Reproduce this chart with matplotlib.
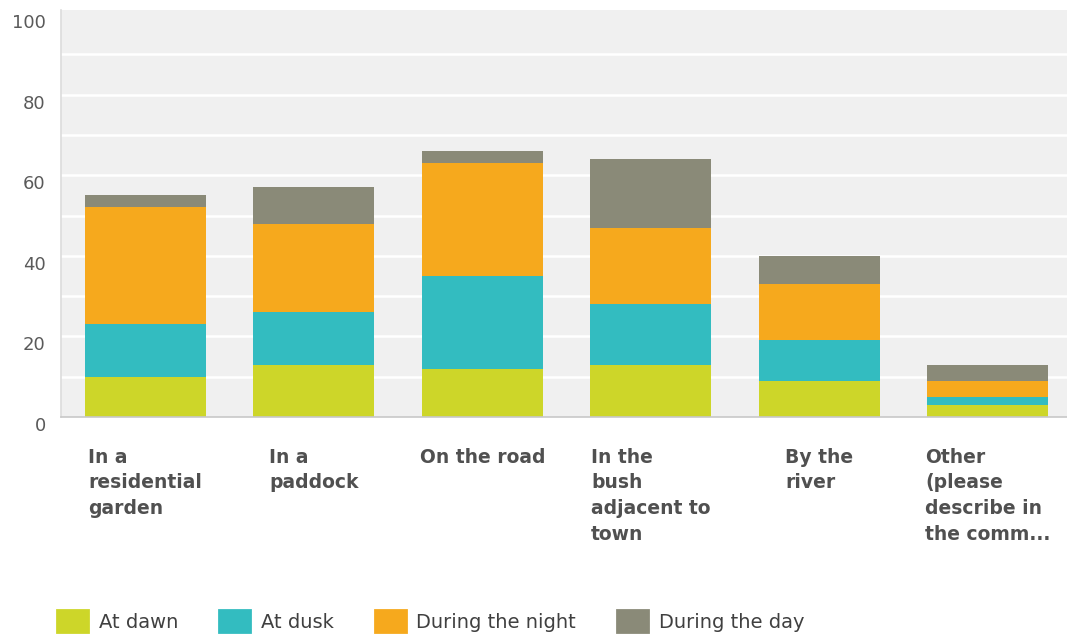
import numpy as np
import matplotlib
matplotlib.use("Agg")
import matplotlib.pyplot as plt
import matplotlib.transforms as mtransforms
from matplotlib.patches import Patch

# where the sightings happened
places = ["In a\nresidential\ngarden", "In a\npaddock", "On the road",
          "In the\nbush\nadjacent to\ntown", "By the\nriver",
          "Other\n(please\ndescribe in\nthe comm..."]

series_names = ["At dawn", "At dusk", "During the night", "During the day"]
at_dawn = [10, 13, 12, 13, 9, 3]
at_dusk = [13, 13, 23, 15, 10, 2]
during_night = [29, 22, 28, 19, 14, 4]
during_day = [3, 9, 3, 17, 7, 4]

colors = ["#cdd629", "#33bcc0", "#f6a91d", "#8a8a78"]
yticks = [0, 20, 40, 60, 80, 100]

fig = plt.figure(figsize=(10.67, 6.35), dpi=100)
ax = fig.add_axes([61 / 1067, 218 / 635, 1 - 61 / 1067, (417 - 10) / 635])
ax.set_facecolor("#f0f0f0")

x = np.arange(len(places))
bottom = np.zeros(len(places))
for vals, col in zip([at_dawn, at_dusk, during_night, during_day], colors):
    ax.bar(x, vals, width=0.72, bottom=bottom, color=col, zorder=3)
    bottom += np.array(vals)

ax.set_xlim(-0.5, 5.47)
ax.set_ylim(0, 101)

# white grid every 10
for g in range(10, 100, 10):
    ax.axhline(g, color="white", lw=1.8, zorder=1)

for s in ["top", "right"]:
    ax.spines[s].set_visible(False)
ax.spines["left"].set_color("#dcdcdc")
ax.spines["left"].set_linewidth(1.2)
ax.spines["bottom"].set_color("#c8c8c8")
ax.spines["bottom"].set_linewidth(1.2)
ax.spines["bottom"].set_zorder(4)

ax.set_yticks(yticks)
ax.set_yticklabels([str(t) for t in yticks], fontsize=13, color="#5a5a5a")
ax.tick_params(axis="y", length=0, pad=11)
shift = mtransforms.ScaledTranslation(0, -7 / 100, fig.dpi_scale_trans)
for lab in ax.get_yticklabels():
    lab.set_transform(lab.get_transform() + shift)

ax.set_xticks(x)
ax.set_xticklabels(places, fontsize=13.5, fontweight="bold", color="#505050",
                   linespacing=1.45, multialignment="left", va="top")
ax.tick_params(axis="x", length=0, pad=22)

handles = [Patch(facecolor=c, edgecolor=c, joinstyle="round", lw=2) for c in colors]
fig.legend(handles, series_names, loc="center left",
           bbox_to_anchor=(57 / 1067, 14 / 635), ncol=4, frameon=False,
           fontsize=14, handlelength=1.6, handleheight=1.3,
           handletextpad=0.55, columnspacing=2.1, borderpad=0,
           borderaxespad=0, labelcolor="#404040")

fig.savefig("out.png", dpi=100, facecolor="white")
